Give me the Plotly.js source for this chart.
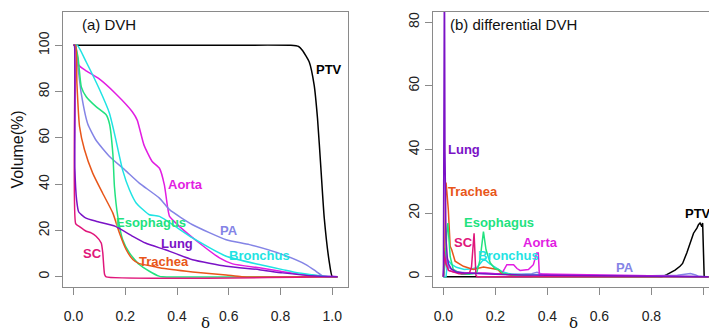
<!DOCTYPE html>
<html>
<head>
<meta charset="utf-8">
<script src="https://cdn.plot.ly/plotly-3.0.1.min.js"></script>
<style>html,body{margin:0;padding:0;background:#fff;}#chart{width:709px;height:334px;}</style>
</head>
<body>
<div id="chart"></div>
<script>
// ---------- (a) cumulative DVH ----------
const ptvX = [0, 0.5, 0.84, 0.87, 0.885, 0.911, 0.93, 0.943, 0.956, 0.969, 0.988, 1.0, 1.02];
const ptvY = [100, 100, 100, 99.5, 97.8, 92.8, 82.8, 68.4, 46.9, 25.4, 6.7, 0, 0];

const aortaX = [0, 0.008, 0.02, 0.046, 0.098, 0.162, 0.227, 0.246, 0.272, 0.304, 0.332, 0.351, 0.364, 0.371, 0.409, 0.486, 0.564, 0.615, 0.718, 0.8, 0.87, 0.95, 1.0, 1.02];
const aortaY = [100, 100, 91.4, 89.2, 85.6, 79.2, 71.3, 67.7, 57, 49.8, 46.9, 39.7, 29.7, 26.1, 21.8, 14.6, 8.2, 5.6, 3.9, 2.4, 1.2, 0.4, 0.1, 0];

const paX = [0, 0.005, 0.017, 0.03, 0.055, 0.087, 0.139, 0.2, 0.254, 0.332, 0.371, 0.46, 0.59, 0.68, 0.808, 0.898, 0.937, 0.963, 1.0, 1.02];
const paY = [100, 100, 90.7, 79, 66, 59, 52, 46, 40.5, 34, 29, 22.5, 16, 13.9, 9.6, 5.3, 2.4, 0.3, 0, 0];

const bronchusX = [0, 0.015, 0.049, 0.1, 0.139, 0.158, 0.19, 0.216, 0.242, 0.293, 0.332, 0.46, 0.59, 0.718, 0.808, 0.87, 0.937, 1.0, 1.02];
const bronchusY = [100, 100, 92.8, 81, 70.6, 62, 46, 37.6, 31.9, 26.8, 26.1, 16.8, 8.9, 5.3, 3.1, 1.6, 0.7, 0, 0];

const esophagusX = [0, 0.005, 0.017, 0.03, 0.049, 0.087, 0.126, 0.139, 0.152, 0.158, 0.171, 0.19, 0.216, 0.254, 0.293, 0.33, 0.344, 1.0, 1.02];
const esophagusY = [100, 100, 95, 82, 77.8, 73.5, 70, 66, 53, 39, 26, 16, 10.3, 5.3, 2.4, 0.3, 0, 0, 0];

const lungX = [0, 0.003, 0.005, 0.012, 0.02, 0.046, 0.087, 0.162, 0.229, 0.278, 0.332, 0.355, 0.46, 0.59, 0.718, 0.808, 0.937, 1.0, 1.02];
const lungY = [100, 100, 47, 33, 28, 25.5, 24, 21.8, 17.5, 14.6, 12.5, 11.7, 7.4, 4.6, 3.1, 1.7, 0.3, 0.1, 0];

const tracheaX = [0, 0.008, 0.013, 0.023, 0.042, 0.074, 0.113, 0.152, 0.177, 0.203, 0.229, 0.254, 0.306, 0.332, 0.46, 0.59, 0.65, 1.0, 1.02];
const tracheaY = [100, 100, 83.5, 65, 55, 44.8, 36, 27.5, 19, 11.8, 7.5, 5.7, 4.6, 3.9, 2.1, 0.8, 0, 0, 0];

const scX = [0, 0.003, 0.008, 0.023, 0.049, 0.068, 0.087, 0.107, 0.113, 0.12, 0.126, 1.0, 1.02];
const scY = [100, 100, 23, 21.7, 19.7, 19, 17.5, 14.6, 10.3, 1, 0, 0, 0];

// ---------- (b) differential DVH ----------
const dPtvX = [0, 0.84, 0.859, 0.875, 0.891, 0.91, 0.92, 0.936, 0.949, 0.962, 0.975, 0.981, 0.987, 0.994, 0.997, 1.0, 1.003, 1.02];
const dPtvY = [0, 0, 0.7, 1.3, 2.1, 3.3, 4.2, 7.5, 10.6, 13.7, 15.3, 16.4, 16.9, 15.8, 16.9, 10, 0, 0];

const dAortaX = [0, 0.004, 0.008, 0.012, 0.02, 0.04, 0.08, 0.12, 0.16, 0.2, 0.224, 0.235, 0.244, 0.27, 0.283, 0.295, 0.327, 0.346, 0.359, 0.365, 0.369, 0.38, 0.45, 0.5, 0.55, 0.58, 0.62, 0.7, 0.8, 0.9, 1.0, 1.02];
const dAortaY = [0, 6, 7.6, 4, 2, 1.5, 1.2, 1.3, 1.2, 1, 1, 2.5, 3.8, 3.8, 2.6, 2, 2.3, 3.8, 7.5, 7.5, 0.7, 0.9, 0.8, 0.7, 0.6, 0.7, 0.5, 0.3, 0.2, 0.1, 0, 0];

const dPaX = [0, 0.005, 0.01, 0.02, 0.05, 0.1, 0.2, 0.3, 0.34, 0.36, 0.38, 0.45, 0.6, 0.7, 0.8, 0.9, 0.93, 0.95, 0.97, 0.98, 1.0, 1.02];
const dPaY = [0, 9, 6, 3, 1.5, 1.2, 1, 0.8, 1, 1.4, 0.8, 0.5, 0.4, 0.3, 0.3, 0.5, 0.9, 1, 0.6, 0.2, 0, 0];

const dBronchusX = [0, 0.01, 0.015, 0.02, 0.03, 0.05, 0.08, 0.11, 0.13, 0.15, 0.16, 0.18, 0.2, 0.224, 0.26, 0.3, 0.4, 0.5, 0.6, 0.7, 0.8, 0.9, 1.0, 1.02];
const dBronchusY = [0, 0, 4, 5, 4, 3, 2.3, 2.5, 3, 5, 5.4, 4, 3, 1.7, 0.8, 0.7, 0.6, 0.5, 0.4, 0.3, 0.3, 0.2, 0, 0];

const dEsophagusX = [0, 0.008, 0.013, 0.017, 0.026, 0.038, 0.07, 0.1, 0.128, 0.141, 0.154, 0.164, 0.18, 0.199, 0.212, 0.231, 0.28, 0.33, 0.344, 1.02];
const dEsophagusY = [0, 5, 14, 16.9, 6.4, 2.3, 0.8, 0.8, 1.2, 5.4, 14.2, 8.5, 4.4, 2.5, 2.3, 1, 0.5, 0.3, 0, 0];

const dLungX = [0, 0.002, 0.004, 0.006, 0.01, 0.015, 0.02, 0.03, 0.05, 0.08, 0.12, 0.2, 0.3, 0.4, 0.6, 0.8, 1.0, 1.02];
const dLungY = [0, 100, 100, 40, 12, 6, 4, 2.5, 1.5, 1.2, 1, 0.8, 0.6, 0.5, 0.3, 0.2, 0.1, 0];

const dTracheaX = [0, 0.005, 0.008, 0.01, 0.013, 0.019, 0.026, 0.032, 0.045, 0.077, 0.115, 0.154, 0.192, 0.21, 0.224, 0.26, 0.3, 0.33, 0.35, 1.02];
const dTracheaY = [0, 5, 25, 29.6, 27, 21, 9.6, 8.5, 4.9, 3.3, 2.3, 3.1, 2.5, 2.2, 1, 0.5, 0.4, 0.3, 0, 0];

const dScX = [0, 0.003, 0.006, 0.01, 0.02, 0.04, 0.06, 0.08, 0.1, 0.108, 0.113, 0.118, 0.121, 0.125, 0.13, 1.02];
const dScY = [0, 8, 6, 4, 2, 1.5, 1, 1, 1.2, 3, 10, 13.7, 8, 0.5, 0, 0];

// ---------- labels ----------
const labelNames = ['PTV', 'Aorta', 'Esophagus', 'PA', 'Lung', 'Bronchus', 'Trachea', 'SC'];
const labelAX = [0.988, 0.431, 0.3, 0.602, 0.4, 0.718, 0.351, 0.072];
const labelAY = [89.5, 40, 23.5, 19.9, 14.2, 9.2, 6.7, 9.9];
const labelBX = [0.981, 0.372, 0.212, 0.699, 0.081, 0.25, 0.113, 0.077];
const labelBY = [20, 10.9, 17.2, 3, 40, 6.7, 26.9, 10.9];

const xTicks = [0, 0.2, 0.4, 0.6, 0.8, 1.0];
const xTickText = ['0.0', '0.2', '0.4', '0.6', '0.8', '1.0'];
const yTicksA = [0, 20, 40, 60, 80, 100];
const yTicksB = [0, 20, 40, 60, 80];

const colors = {
  PTV: '#000000', Aorta: '#E21DE2', Esophagus: '#22E27F', PA: '#8484E6',
  Lung: '#7A12C6', Bronchus: '#1FE3E3', Trachea: '#E8561A', SC: '#E0167A'
};

const seriesA = {
  PTV: [ptvX, ptvY], Aorta: [aortaX, aortaY], PA: [paX, paY], Bronchus: [bronchusX, bronchusY],
  Esophagus: [esophagusX, esophagusY], Trachea: [tracheaX, tracheaY], SC: [scX, scY], Lung: [lungX, lungY]
};
const seriesB = {
  PTV: [dPtvX, dPtvY], PA: [dPaX, dPaY], Bronchus: [dBronchusX, dBronchusY], Aorta: [dAortaX, dAortaY],
  Trachea: [dTracheaX, dTracheaY], Esophagus: [dEsophagusX, dEsophagusY], SC: [dScX, dScY], Lung: [dLungX, dLungY]
};

const traces = [];
for (const k of Object.keys(seriesA)) {
  traces.push({x: seriesA[k][0], y: seriesA[k][1], xaxis: 'x', yaxis: 'y', type: 'scatter', mode: 'lines',
    name: k, showlegend: false, line: {color: colors[k], width: 1.5, shape: 'spline', smoothing: 0.5}, hoverinfo: 'skip'});
}
for (const k of Object.keys(seriesB)) {
  traces.push({x: seriesB[k][0], y: seriesB[k][1], xaxis: 'x2', yaxis: 'y2', type: 'scatter', mode: 'lines',
    name: k, showlegend: false, line: {color: colors[k], width: 1.5}, hoverinfo: 'skip'});
}

const font = 'Liberation Sans, Arial, sans-serif';
const annotations = [];
labelNames.forEach((n, i) => {
  annotations.push({xref: 'x', yref: 'y', x: labelAX[i], y: labelAY[i], text: '<b>' + n + '</b>', showarrow: false,
    font: {family: font, size: 13, color: colors[n]}, xanchor: 'center', yanchor: 'middle'});
  annotations.push({xref: 'x2', yref: 'y2', x: labelBX[i], y: labelBY[i], text: '<b>' + n + '</b>', showarrow: false,
    font: {family: font, size: 13, color: colors[n]}, xanchor: 'center', yanchor: 'middle'});
});
annotations.push({xref: 'x domain', yref: 'y domain', x: 0.058, y: 0.956, text: '(a) DVH', showarrow: false,
  xanchor: 'left', yanchor: 'middle', font: {family: font, size: 15, color: '#111'}});
annotations.push({xref: 'x2 domain', yref: 'y2 domain', x: 0.053, y: 0.956, text: '(b) differential DVH', showarrow: false,
  xanchor: 'left', yanchor: 'middle', font: {family: font, size: 15, color: '#111'}});
// x-axis titles (δ) placed below the tick labels
annotations.push({xref: 'x domain', yref: 'paper', x: 0.5, y: 1, text: 'δ', showarrow: false,
  xanchor: 'center', yanchor: 'bottom', font: {family: 'DejaVu Serif, serif', size: 15, color: '#111'}});
annotations.push({xref: 'x2 domain', yref: 'paper', x: 0.51, y: 1, text: 'δ', showarrow: false,
  xanchor: 'center', yanchor: 'bottom', font: {family: 'DejaVu Serif, serif', size: 15, color: '#111'}});
annotations[annotations.length - 2].y = 0;
annotations[annotations.length - 1].y = 0;

const axCommon = {
  showline: true, mirror: true, linecolor: '#8a8a8a', linewidth: 1, ticks: 'outside', ticklen: 7,
  tickcolor: '#8a8a8a', tickwidth: 1, showgrid: false, zeroline: false,
  tickfont: {family: font, size: 14, color: '#222'}, fixedrange: true
};

const layout = {
  width: 709, height: 334,
  margin: {l: 0, r: 0, t: 0, b: 0},
  paper_bgcolor: '#ffffff', plot_bgcolor: '#ffffff',
  showlegend: false,
  xaxis: Object.assign({}, axCommon, {domain: [63 / 709, 348 / 709], range: [-0.0408, 1.0608], tickvals: xTicks, ticktext: xTickText,
    ticklabelstandoff: 9}),
  yaxis: Object.assign({}, axCommon, {domain: [47 / 334, 322 / 334], range: [-4.4, 114.4], tickvals: yTicksA, tickangle: -90,
    title: {text: 'Volume(%)', font: {family: font, size: 16, color: '#111'}, standoff: 8}}),
  xaxis2: Object.assign({}, axCommon, {domain: [433 / 709, 1], range: [-0.04, 1.0215], tickvals: xTicks, ticktext: xTickText, anchor: 'y2',
    ticklabelstandoff: 9}),
  yaxis2: Object.assign({}, axCommon, {domain: [47 / 334, 322 / 334], range: [-3.2, 83.2], tickvals: yTicksB, tickangle: -90, anchor: 'x2'}),
  annotations: annotations
};

Plotly.newPlot('chart', traces, layout, {displayModeBar: false, staticPlot: true});
</script>
</body>
</html>
